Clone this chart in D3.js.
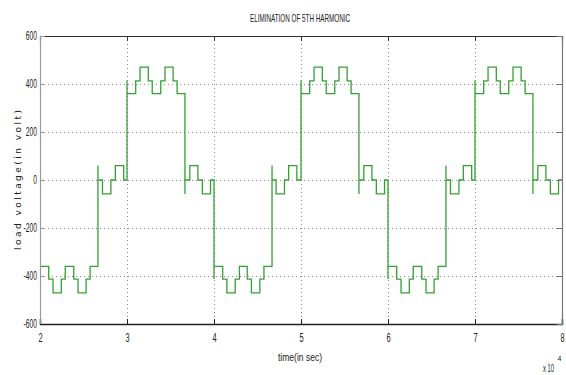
<!DOCTYPE html>
<html>
<head>
<meta charset="utf-8">
<script src="https://cdn.jsdelivr.net/npm/d3@7"></script>
<style>
  html, body { margin: 0; padding: 0; background: #fff; }
  svg { display: block; }
</style>
</head>
<body>
<svg id="chart" width="566" height="375"></svg>
<script>
// ---- Data (time in units of 1e4, voltage in volts) ----
const timeE4 = [
  2.000, 2.100, 2.150, 2.245, 2.290, 2.388, 2.437, 2.530, 2.576, 2.666, 2.666, 2.718, 2.815, 2.866, 2.962,
  3.000, 3.000, 3.100, 3.150, 3.245, 3.290, 3.388, 3.437, 3.530, 3.576, 3.666, 3.666, 3.722, 3.815, 3.866, 3.960,
  4.000, 4.000, 4.100, 4.148, 4.244, 4.292, 4.382, 4.430, 4.527, 4.574, 4.667, 4.667, 4.713, 4.810, 4.858, 4.952,
  5.000, 5.000, 5.100, 5.150, 5.245, 5.290, 5.388, 5.437, 5.530, 5.576, 5.666, 5.666, 5.722, 5.815, 5.866, 5.960,
  6.000, 6.000, 6.100, 6.150, 6.245, 6.290, 6.388, 6.437, 6.530, 6.576, 6.666, 6.666, 6.718, 6.815, 6.866, 6.962,
  7.000, 7.000, 7.100, 7.150, 7.245, 7.290, 7.388, 7.437, 7.530, 7.576, 7.666, 7.666, 7.722, 7.815, 7.866, 7.960,
  8.000
];
const voltage = [
  -360, -413, -470, -413, -360, -413, -470, -413, -360, 60, 0, -58, 0, 60, 0,
  415, 360, 413, 470, 413, 360, 413, 470, 413, 360, -58, 0, 60, 0, -58, 0,
  -413, -360, -413, -470, -413, -360, -413, -470, -413, -360, 60, 0, -58, 0, 60, 0,
  415, 360, 413, 470, 413, 360, 413, 470, 413, 360, -58, 0, 60, 0, -58, 0,
  -413, -360, -413, -470, -413, -360, -413, -470, -413, -360, 60, 0, -58, 0, 60, 0,
  415, 360, 413, 470, 413, 360, 413, 470, 413, 360, -58, 0, 60, 0, -58, 0,
  0
];
const xTicks = [2, 3, 4, 5, 6, 7, 8];
const yTicks = [-600, -400, -200, 0, 200, 400, 600];
const titleText = "ELIMINATION OF 5TH HARMONIC";
const xLabel = "time(in sec)";
const yLabel = "load voltage(in volt)";
const multBase = "x 10";
const multExp = "4";

// ---- Layout ----
const svg = d3.select("#chart");
const L = 40, R = 562, T = 36, B = 324;
const x = d3.scaleLinear().domain([2, 8]).range([L, R]);
const y = d3.scaleLinear().domain([-600, 600]).range([B, T]);
const font = "'Liberation Sans', Arial, sans-serif";
const fmt = d => String(d); // plain hyphen minus

// compress text horizontally (narrow MATLAB-like look)
function squeeze(sel, k) {
  sel.each(function () {
    const w = this.getComputedTextLength();
    if (w > 0) {
      this.setAttribute("textLength", (w * k).toFixed(2));
      this.setAttribute("lengthAdjust", "spacingAndGlyphs");
    }
  });
}

// grid
const grid = svg.append("g");
grid.selectAll("line.gx").data(xTicks.slice(1, -1)).join("line")
  .attr("x1", d => Math.round(x(d)) + 0.5).attr("x2", d => Math.round(x(d)) + 0.5)
  .attr("y1", T).attr("y2", B)
  .attr("stroke", "#8a8a8a").attr("stroke-width", 1).attr("stroke-dasharray", "1,3");
grid.selectAll("line.gy").data(yTicks.slice(1, -1)).join("line")
  .attr("y1", d => Math.round(y(d)) + 0.5).attr("y2", d => Math.round(y(d)) + 0.5)
  .attr("x1", L).attr("x2", R)
  .attr("stroke", "#8a8a8a").attr("stroke-width", 1).attr("stroke-dasharray", "1,3");

// data line
const pts = timeE4.map((t, i) => [t, voltage[i]]);
const line = d3.line().x(d => x(d[0])).y(d => y(d[1])).curve(d3.curveStepAfter);
svg.append("path").datum(pts)
  .attr("d", line)
  .attr("fill", "none")
  .attr("stroke", "#34a034")
  .attr("stroke-width", 1.3);

// axes (MATLAB style: ticks inside, box)
const axB = d3.axisBottom(x).tickValues(xTicks).tickSize(-5).tickPadding(9).tickFormat(fmt);
const axT = d3.axisTop(x).tickValues(xTicks).tickSize(-5).tickFormat("");
const axL = d3.axisLeft(y).tickValues(yTicks).tickSize(-5).tickPadding(3).tickFormat(fmt);
const axR = d3.axisRight(y).tickValues(yTicks).tickSize(-5).tickFormat("");

function style(g, col, w) {
  g.select(".domain").attr("stroke", col).attr("stroke-width", w);
  g.selectAll(".tick line").attr("stroke", col);
  g.selectAll("text").attr("font-family", font).attr("font-size", 12).attr("fill", "#222");
}
const gB = svg.append("g").attr("transform", `translate(0,${B})`).call(axB);
style(gB, "#222", 1.5);
const gT = svg.append("g").attr("transform", `translate(0,${T})`).call(axT);
style(gT, "#333", 1.2);
const gL = svg.append("g").attr("transform", `translate(${L},0)`).call(axL);
style(gL, "#999", 1.2);
const gR = svg.append("g").attr("transform", `translate(${R},0)`).call(axR);
style(gR, "#777", 1.2);
gL.select(".tick:first-of-type line").attr("stroke", "#222");
squeeze(gB.selectAll("text"), 0.62);
squeeze(gL.selectAll("text"), 0.56);

// title
svg.append("text").attr("x", 300).attr("y", 22).attr("text-anchor", "middle")
  .attr("font-family", font).attr("font-size", 11).attr("fill", "#222")
  .attr("textLength", 100).attr("lengthAdjust", "spacingAndGlyphs")
  .text(titleText);

// x label
svg.append("text").attr("x", 300).attr("y", 361).attr("text-anchor", "middle")
  .attr("font-family", font).attr("font-size", 11).attr("fill", "#222")
  .attr("textLength", 44).attr("lengthAdjust", "spacingAndGlyphs")
  .text(xLabel);

// x 10^4 (two separate texts to avoid overlap)
svg.append("text").attr("x", 543).attr("y", 372)
  .attr("font-family", font).attr("font-size", 10).attr("fill", "#222")
  .attr("textLength", 11).attr("lengthAdjust", "spacingAndGlyphs").text(multBase);
svg.append("text").attr("x", 557.5).attr("y", 361)
  .attr("font-family", font).attr("font-size", 7).attr("fill", "#222").text(multExp);

// y label
svg.append("text")
  .attr("transform", `translate(21,${(T + B) / 2}) rotate(-90)`)
  .attr("text-anchor", "middle")
  .attr("font-family", "'DejaVu Sans', sans-serif").attr("font-size", 9).attr("fill", "#222")
  .attr("textLength", 140).attr("lengthAdjust", "spacing")
  .text(yLabel);
</script>
</body>
</html>
